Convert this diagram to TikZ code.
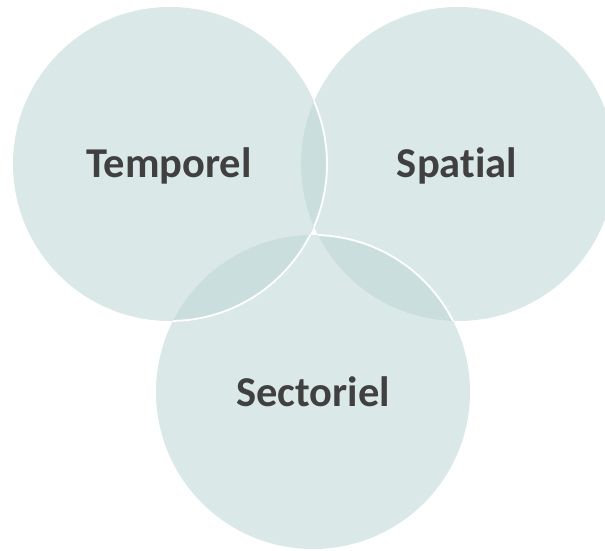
\documentclass[tikz,border=0pt]{standalone}
\usepackage{fontspec}
\setmainfont[Ligatures=NoCommon]{Carlito}
\definecolor{venn}{RGB}{190,215,213}
\definecolor{label}{RGB}{64,64,64}
\begin{document}
\begin{tikzpicture}[x=1pt,y=-1pt,
  venncircle/.style={circle,minimum size=314pt,inner sep=0pt,fill=venn,fill opacity=0.57},
  vennedge/.style={white,line width=1.8pt},
  vennlabel/.style={anchor=base,text=label,font=\fontsize{42.5}{50}\selectfont\bfseries,inner sep=0pt}]
\useasboundingbox (0,0) rectangle (605,551);
\node[venncircle] (tem) at (170,164) {};
\node[venncircle] (spa) at (458,164) {};
\node[venncircle] (sec) at (313,392) {};
% white outlines visible where circles overlap
\begin{scope}
  \clip (spa.center) circle (157);
  \draw[vennedge] (tem.center) circle (157);
  \draw[vennedge] (sec.center) circle (157);
\end{scope}
\begin{scope}
  \clip (sec.center) circle (157);
  \draw[vennedge] (tem.center) circle (157);
\end{scope}
\node[vennlabel] (tlab) at (169,177) {Temporel};
\node[vennlabel] (slab) at (457,177) {Spatial};
\node[vennlabel] (clab) at (313,406) {Sectoriel};
\end{tikzpicture}
\end{document}
